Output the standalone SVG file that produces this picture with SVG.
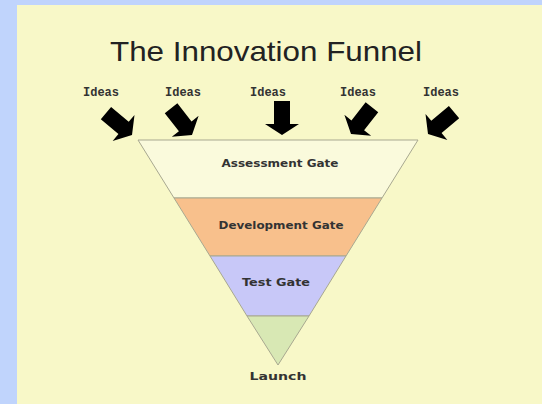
<svg xmlns="http://www.w3.org/2000/svg" xmlns:xlink="http://www.w3.org/1999/xlink" width="542" height="404" viewBox="0 0 542 404">
  <style>
    .title { font-family: "Liberation Sans", Arial, sans-serif; font-size: 28px; fill: #222; }
    .idea { font-family: "Liberation Mono", "Courier New", monospace; font-size: 12px; font-weight: bold; fill: #333; }
    .gate { font-family: "Comic Sans MS", "DejaVu Sans", sans-serif; font-size: 11px; font-weight: bold; fill: #333; }
    .band { stroke: #a8a890; stroke-width: 1; }
    .arrow { fill: #000; }
  </style>
  <defs>
    <path id="blk" d="M-8,-34 L8,-34 L8,-11 L17,-11 L0,0 L-17,-11 L-8,-11 Z"/>
  </defs>
  <rect x="0" y="0" width="542" height="404" fill="#c0d4fc"/>
  <rect x="17" y="5" width="525" height="399" fill="#f8f8c8"/>
  <text class="title" x="266" y="61" text-anchor="middle" textLength="312" lengthAdjust="spacingAndGlyphs">The Innovation Funnel</text>

  <g id="ideas">
    <text class="idea" x="101" y="96" text-anchor="middle">Ideas</text>
    <text class="idea" x="183" y="96" text-anchor="middle">Ideas</text>
    <text class="idea" x="268" y="96" text-anchor="middle">Ideas</text>
    <text class="idea" x="358" y="96" text-anchor="middle">Ideas</text>
    <text class="idea" x="441" y="96" text-anchor="middle">Ideas</text>
  </g>

  <g id="connectors" class="arrow">
    <use xlink:href="#blk" transform="translate(132,135) rotate(-50)"/>
    <use xlink:href="#blk" transform="translate(192,135) rotate(-38)"/>
    <use xlink:href="#blk" transform="translate(282,135)"/>
    <use xlink:href="#blk" transform="translate(351,134) rotate(38)"/>
    <use xlink:href="#blk" transform="translate(428,134) rotate(50)"/>
  </g>

  <g id="assessment">
    <polygon class="band" points="138,140 418,140 382,198 174,198" fill="#fafadc"/>
    <text class="gate" x="280" y="167" text-anchor="middle" textLength="117" lengthAdjust="spacingAndGlyphs">Assessment Gate</text>
  </g>
  <g id="development">
    <polygon class="band" points="174,198 382,198 346,256 210,256" fill="#f8c08c"/>
    <text class="gate" x="281" y="229" text-anchor="middle" textLength="125" lengthAdjust="spacingAndGlyphs">Development Gate</text>
  </g>
  <g id="test">
    <polygon class="band" points="210,256 346,256 309,316 247,316" fill="#c8c8f8"/>
    <text class="gate" x="276" y="286" text-anchor="middle" textLength="68" lengthAdjust="spacingAndGlyphs">Test Gate</text>
  </g>
  <g id="launch">
    <polygon class="band" points="247,316 309,316 278,365" fill="#d8e8b4"/>
    <text class="gate" x="278" y="380" text-anchor="middle" font-size="14" textLength="57" lengthAdjust="spacingAndGlyphs">Launch</text>
  </g>
</svg>
